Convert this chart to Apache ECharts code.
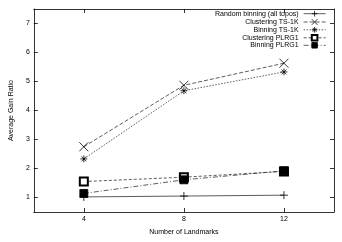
<!DOCTYPE html>
<html>
<head>
<meta charset="utf-8">
<script src="https://cdn.jsdelivr.net/npm/echarts@6/dist/echarts.min.js"></script>
<style>html,body{margin:0;padding:0;background:#fff}#c{width:342px;height:242px}</style>
</head>
<body>
<div id="c"></div>
<script>
var landmarks = [4, 8, 12];
var randomBinning = [1.02, 1.05, 1.08];
var clusteringTS = [2.75, 4.87, 5.63];
var binningTS = [2.33, 4.68, 5.33];
var clusteringPLRG = [1.55, 1.70, 1.90];
var binningPLRG = [1.14, 1.61, 1.92];
var seriesNames = ['Random binning (all topos)', 'Clustering TS-1K', 'Binning TS-1K', 'Clustering PLRG1', 'Binning PLRG1'];
var xTicks = [4, 8, 12];
var yTicks = [1, 2, 3, 4, 5, 6, 7];

var FONT = 'Liberation Sans';
function pairs(vals) { return landmarks.map(function (x, i) { return [x, vals[i]]; }); }

var symbols = [
  'path://M5,0L5,10M0,5L10,5',
  'path://M0,0L10,10M10,0L0,10',
  'path://M5,0L5,10M0,5L10,5M1.5,1.5L8.5,8.5M8.5,1.5L1.5,8.5',
  'emptyRect',
  'rect'
];
var sizes = [8, 9, 7, 8, 8];
var dashes = ['solid', [4, 2], [1.5, 1.5], [3, 2], [5, 2, 1, 2]];
var values = [randomBinning, clusteringTS, binningTS, clusteringPLRG, binningPLRG];

var series = seriesNames.map(function (n, i) {
  return {
    name: n, type: 'line', data: pairs(values[i]),
    symbol: symbols[i], symbolSize: sizes[i], showAllSymbol: true,
    lineStyle: { color: '#333', width: 0.8, type: dashes[i] },
    itemStyle: { color: '#000', borderColor: '#000', borderWidth: 0.8 },
    z: 2 + i, animation: false
  };
});

var legendY = [13.7, 22, 29.8, 37.5, 45.3];
var legends = seriesNames.map(function (n, i) {
  return {
    data: [n], orient: 'vertical', right: 16, top: legendY[i] - 3.5, padding: 0,
    itemWidth: 22, itemHeight: 7, align: 'right',
    itemStyle: { borderWidth: 0.8, borderColor: '#000' },
    lineStyle: { width: 0.8, color: '#333', type: dashes[i] },
    textStyle: { fontFamily: FONT, fontSize: 7, color: '#000', padding: [0, 0, 0, 0] },
    selectedMode: false
  };
});

var tickStyle = { show: true, inside: true, length: 4, lineStyle: { color: '#000', width: 0.8 } };

var option = {
  animation: false,
  backgroundColor: '#fff',
  grid: { left: 22, right: 8, top: 9, bottom: 30, containLabel: false },
  legend: legends,
  xAxis: [{
    type: 'value', min: 2, max: 14, position: 'bottom',
    name: 'Number of Landmarks', nameLocation: 'middle', nameGap: 17,
    nameTextStyle: { fontFamily: FONT, fontSize: 7, color: '#000' },
    axisLine: { lineStyle: { color: '#000', width: 0.8 } },
    axisTick: Object.assign({ customValues: xTicks }, tickStyle),
    axisLabel: { customValues: xTicks, fontFamily: FONT, fontSize: 7, color: '#000', margin: 4 },
    splitLine: { show: false }
  }, {
    type: 'value', min: 2, max: 14, position: 'top',
    axisLine: { show: true, lineStyle: { color: '#000', width: 0.8 } },
    axisTick: Object.assign({ customValues: xTicks }, tickStyle),
    axisLabel: { show: false }, splitLine: { show: false }
  }],
  yAxis: [{
    type: 'value', min: 0.5, max: 7.5, position: 'left',
    name: 'Average Gain Ratio', nameLocation: 'middle', nameGap: 13,
    nameTextStyle: { fontFamily: FONT, fontSize: 7, color: '#000' },
    axisLine: { show: true, lineStyle: { color: '#000', width: 0.8 } },
    axisTick: Object.assign({ customValues: yTicks }, tickStyle),
    axisLabel: { customValues: yTicks, fontFamily: FONT, fontSize: 7, color: '#000', margin: 4 },
    splitLine: { show: false }
  }, {
    type: 'value', min: 0.5, max: 7.5, position: 'right',
    axisLine: { show: true, lineStyle: { color: '#000', width: 0.8 } },
    axisTick: Object.assign({ customValues: yTicks }, tickStyle),
    axisLabel: { show: false }, splitLine: { show: false }
  }],
  series: series
};
var chart = echarts.init(document.getElementById('c'), null, { renderer: 'canvas' });
chart.setOption(option);
</script>
</body>
</html>
